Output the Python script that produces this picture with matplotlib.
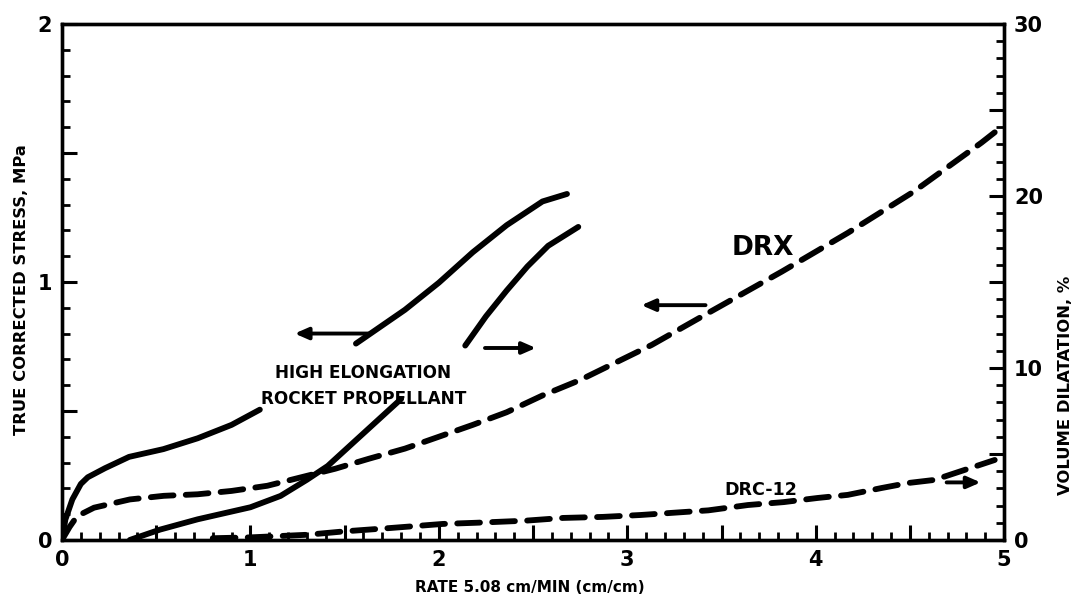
import numpy as np
import matplotlib
matplotlib.use("Agg")
import matplotlib.pyplot as plt
from matplotlib.ticker import MultipleLocator, FixedLocator, FixedFormatter

plt.rcParams['font.family'] = ['DejaVu Sans']
plt.rcParams['font.weight'] = 'bold'

nan = np.nan

# --- High elongation rocket propellant: true corrected stress (MPa) ---
he_strain = [0.0, 0.018, 0.055, 0.10, 0.137, 0.228, 0.356, 0.538, 0.72, 0.90, 1.05,
             nan, 1.56, 1.82, 2.0, 2.18, 2.36, 2.55, 2.68]
he_stress = [0.0, 0.079, 0.157, 0.217, 0.243, 0.278, 0.322, 0.352, 0.394, 0.446, 0.505,
             nan, 0.761, 0.892, 0.997, 1.115, 1.22, 1.312, 1.341]

# --- High elongation rocket propellant: volume dilatation (%) ---
he_vol_strain = [0.36, 0.52, 0.72, 1.0, 1.16, 1.30, 1.41, 1.54, 1.67, 1.80,
                 nan, 2.14, 2.25, 2.36, 2.47, 2.58, 2.74]
he_vol = [0.0, 0.6, 1.2, 1.9, 2.56, 3.5, 4.3, 5.6, 6.9, 8.2,
          nan, 11.3, 13.0, 14.5, 15.9, 17.1, 18.2]

# --- DRX: true corrected stress (MPa) ---
drx_strain = [0.0, 0.04, 0.08, 0.17, 0.36, 0.54, 0.72, 0.90, 1.09, 1.27, 1.45, 1.63,
              1.82, 2.0, 2.18, 2.36, 2.55, 2.75, 3.13, 3.43, 3.82, 4.17, 4.52, 4.88, 4.95]
drx_stress = [0.0, 0.05, 0.092, 0.125, 0.157, 0.171, 0.177, 0.19, 0.21, 0.243, 0.276, 0.315,
              0.354, 0.40, 0.446, 0.495, 0.56, 0.62, 0.756, 0.88, 1.04, 1.19, 1.35, 1.54, 1.58]

# --- DRC-12: volume dilatation (%) ---
drc_strain = [0.8, 1.0, 1.3, 1.5, 1.75, 2.02, 2.2, 2.46, 2.66, 2.87, 3.07, 3.23, 3.43,
              3.64, 3.83, 4.01, 4.17, 4.35, 4.49, 4.63, 4.79, 4.95]
drc_vol = [0.1, 0.15, 0.3, 0.5, 0.7, 0.93, 1.0, 1.12, 1.28, 1.34, 1.45, 1.57, 1.72,
           2.03, 2.2, 2.44, 2.62, 3.02, 3.31, 3.49, 4.07, 4.65]

x_labels = ['0', '', '1', '', '2', '', '3', '', '4', '', '5']
left_labels = ['0', '', '1', '', '2']
right_labels = ['0', '', '10', '', '20', '', '30']

fig = plt.figure(figsize=(10.78, 6.06), dpi=100)
ax = fig.add_axes([0.0575, 0.109, 0.874, 0.8515])
ax2 = ax.twinx()

LW = 4.2
DASH = (3.9, 2.1)

ax.plot(he_strain, he_stress, color='black', lw=LW, solid_capstyle='round',
        solid_joinstyle='round', zorder=3)
ax2.plot(he_vol_strain, he_vol, color='black', lw=LW, solid_capstyle='round',
         solid_joinstyle='round', zorder=3)
ax.plot(drx_strain, drx_stress, color='black', lw=LW, dashes=DASH,
        dash_capstyle='round', zorder=3)
ax2.plot(drc_strain, drc_vol, color='black', lw=LW, dashes=DASH,
         dash_capstyle='round', zorder=3)

ax.set_xlim(0, 5)
ax.set_ylim(0, 2)
ax2.set_ylim(0, 30)

# ticks: all inward, long every half unit, short every tenth
ax.xaxis.set_major_locator(FixedLocator(np.arange(0, 5.01, 0.5)))
ax.xaxis.set_major_formatter(FixedFormatter(x_labels))
ax.xaxis.set_minor_locator(MultipleLocator(0.1))
ax.yaxis.set_major_locator(FixedLocator(np.arange(0, 2.01, 0.5)))
ax.yaxis.set_major_formatter(FixedFormatter(left_labels))
ax.yaxis.set_minor_locator(MultipleLocator(0.1))
ax2.yaxis.set_major_locator(FixedLocator(np.arange(0, 30.1, 5)))
ax2.yaxis.set_major_formatter(FixedFormatter(right_labels))
ax2.yaxis.set_minor_locator(MultipleLocator(1))

for a in (ax, ax2):
    a.tick_params(which='major', direction='in', length=11, width=2.2,
                  labelsize=15, pad=7)
    a.tick_params(which='minor', direction='in', length=6, width=2.0)
    for s in a.spines.values():
        s.set_linewidth(2.4)
ax.tick_params(axis='both', which='both', top=False)

# axis titles
ax.set_xlabel('RATE 5.08 cm/MIN (cm/cm)', fontsize=11, fontweight='bold')
ax.xaxis.set_label_coords(0.497, -0.078)
fig.text(22 / 1078, 1 - 290 / 606, 'TRUE CORRECTED STRESS, MPa', rotation=90,
         ha='center', va='center', fontsize=11.8, fontweight='bold')
fig.text(1066 / 1078, 1 - 385 / 606, 'VOLUME DILATATION, %', rotation=90,
         ha='center', va='center', fontsize=11.8, fontweight='bold')

# curve labels
ax.text(1.6, 0.647, 'HIGH ELONGATION', ha='center', va='center', fontsize=12.2, fontweight='bold')
ax.text(1.6, 0.547, 'ROCKET PROPELLANT', ha='center', va='center', fontsize=12.2, fontweight='bold')
ax.text(3.72, 1.13, 'DRX', ha='center', va='center', fontsize=19, fontweight='bold')
ax.text(3.71, 0.194, 'DRC-12', ha='center', va='center', fontsize=12.6, fontweight='bold')

# arrows pointing at the axis each curve belongs to
arrow = dict(arrowstyle='-|>,head_length=0.8,head_width=0.35', color='black', lw=2.8)
ax.annotate('', xy=(1.22, 0.80), xytext=(1.64, 0.80), arrowprops=arrow)
ax.annotate('', xy=(2.53, 0.744), xytext=(2.23, 0.744), arrowprops=arrow)
ax.annotate('', xy=(3.06, 0.91), xytext=(3.43, 0.91), arrowprops=arrow)
ax.annotate('', xy=(4.89, 0.223), xytext=(4.68, 0.223), arrowprops=arrow)

fig.savefig('out.png', dpi=100)
